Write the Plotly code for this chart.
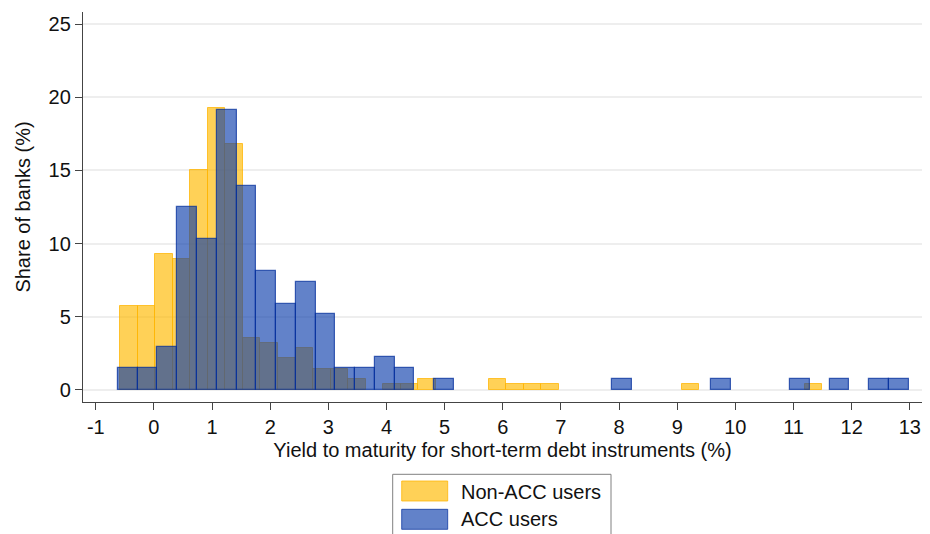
import plotly.graph_objects as go

# ---- data (percent of banks per bin) ----
non_acc_bin_start = -0.584
non_acc_bin_width = 0.302
non_acc_pct = [5.71, 5.71, 9.29, 8.93, 15.00, 19.29, 16.79, 3.57, 3.21, 2.14,
               2.86, 1.43, 1.43, 0.71, 0, 0.36, 0.36, 0.71, 0, 0,
               0, 0.71, 0.36, 0.36, 0.36, 0, 0, 0, 0, 0,
               0, 0, 0.36, 0, 0, 0, 0, 0, 0, 0.36]

acc_bin_start = -0.62
acc_bin_width = 0.34
acc_pct = [1.47, 1.47, 2.94, 12.50, 10.29, 19.12, 13.97, 8.09, 5.88, 7.35,
           5.15, 1.47, 1.47, 2.21, 1.47, 0, 0.74, 0, 0, 0,
           0, 0, 0, 0, 0, 0.74, 0, 0, 0, 0,
           0.74, 0, 0, 0, 0.74, 0, 0.74, 0, 0.74, 0.74]

x_ticks = list(range(-1, 14))
y_ticks = [0, 5, 10, 15, 20, 25]
series_names = ["Non-ACC users", "ACC users"]

# ---- styles ----
FONT = "Liberation Sans, Arial, sans-serif"
YEL_FILL = "rgba(255,185,0,0.66)"
YEL_LINE = "rgba(255,180,0,0.75)"
BLU_FILL = "rgba(10,60,170,0.64)"
BLU_LINE = "rgba(0,45,155,0.72)"

W, H = 930, 534
ML, MR, MT, MB = 83, 8, 12, 132


def bars(start, width, vals):
    xs, ys = [], []
    for i, v in enumerate(vals):
        if v > 0:
            xs.append(start + (i + 0.5) * width)
            ys.append(v)
    return xs, ys


fig = go.Figure()
xy, yy = bars(non_acc_bin_start, non_acc_bin_width, non_acc_pct)
fig.add_trace(go.Bar(x=xy, y=yy, width=non_acc_bin_width, name=series_names[0],
                     marker=dict(color=YEL_FILL, line=dict(color=YEL_LINE, width=1)),
                     showlegend=False))
xb, yb = bars(acc_bin_start, acc_bin_width, acc_pct)
fig.add_trace(go.Bar(x=xb, y=yb, width=acc_bin_width, name=series_names[1],
                     marker=dict(color=BLU_FILL, line=dict(color=BLU_LINE, width=1.2)),
                     showlegend=False))

fig.update_layout(
    width=W, height=H,
    margin=dict(l=ML, r=MR, t=MT, b=MB, autoexpand=False),
    paper_bgcolor="white", plot_bgcolor="white",
    barmode="overlay", bargap=0,
    font=dict(family=FONT, size=20, color="#111111"),
)
fig.update_xaxes(
    range=[-1.22, 13.21], tickmode="array", tickvals=x_ticks,
    ticktext=[str(t) for t in x_ticks],
    ticks="outside", ticklen=7, tickwidth=1.3, tickcolor="#444444",
    showline=True, linecolor="#444444", linewidth=1.3, showgrid=False, zeroline=False,
    tickfont=dict(size=20),
    title=dict(text="Yield to maturity for short-term debt instruments (%)",
               font=dict(size=20), standoff=5),
)
fig.update_yaxes(
    range=[-0.84, 25.84], tickmode="array", tickvals=y_ticks,
    ticktext=[str(t) for t in y_ticks],
    ticks="outside", ticklen=7, tickwidth=1.3, tickcolor="#444444",
    showline=True, linecolor="#444444", linewidth=1.3,
    showgrid=True, gridcolor="#EEEEEE", gridwidth=1.5, zeroline=False,
    tickfont=dict(size=20),
    title=dict(text="Share of banks (%)", font=dict(size=20), standoff=12),
)

# ---- manual legend (pixel -> paper conversion) ----
PW, PH = W - ML - MR, H - MT - MB


def px(xp):
    return (xp - ML) / PW


def py(yp):
    return (H - MB - yp) / PH


fig.add_shape(type="rect", xref="paper", yref="paper",
              x0=px(392.7), x1=px(611), y0=py(474.3), y1=py(560),
              line=dict(color="#808080", width=1), fillcolor="white")
fig.add_shape(type="rect", xref="paper", yref="paper",
              x0=px(401.7), x1=px(447.7), y0=py(481), y1=py(501),
              line=dict(color=YEL_LINE, width=1), fillcolor=YEL_FILL)
fig.add_shape(type="rect", xref="paper", yref="paper",
              x0=px(401.7), x1=px(447.7), y0=py(509.3), y1=py(529.3),
              line=dict(color=BLU_LINE, width=1), fillcolor=BLU_FILL)
for name, yc in zip(series_names, [491.5, 519.3]):
    fig.add_annotation(xref="paper", yref="paper", x=px(459), y=py(yc),
                       text=name, showarrow=False, xanchor="left", yanchor="middle",
                       font=dict(size=20, color="#111111"))

fig.write_html("out.html",
               config={"displayModeBar": False},
               post_script="document.body.style.margin='0px';document.body.style.overflow='hidden';")
